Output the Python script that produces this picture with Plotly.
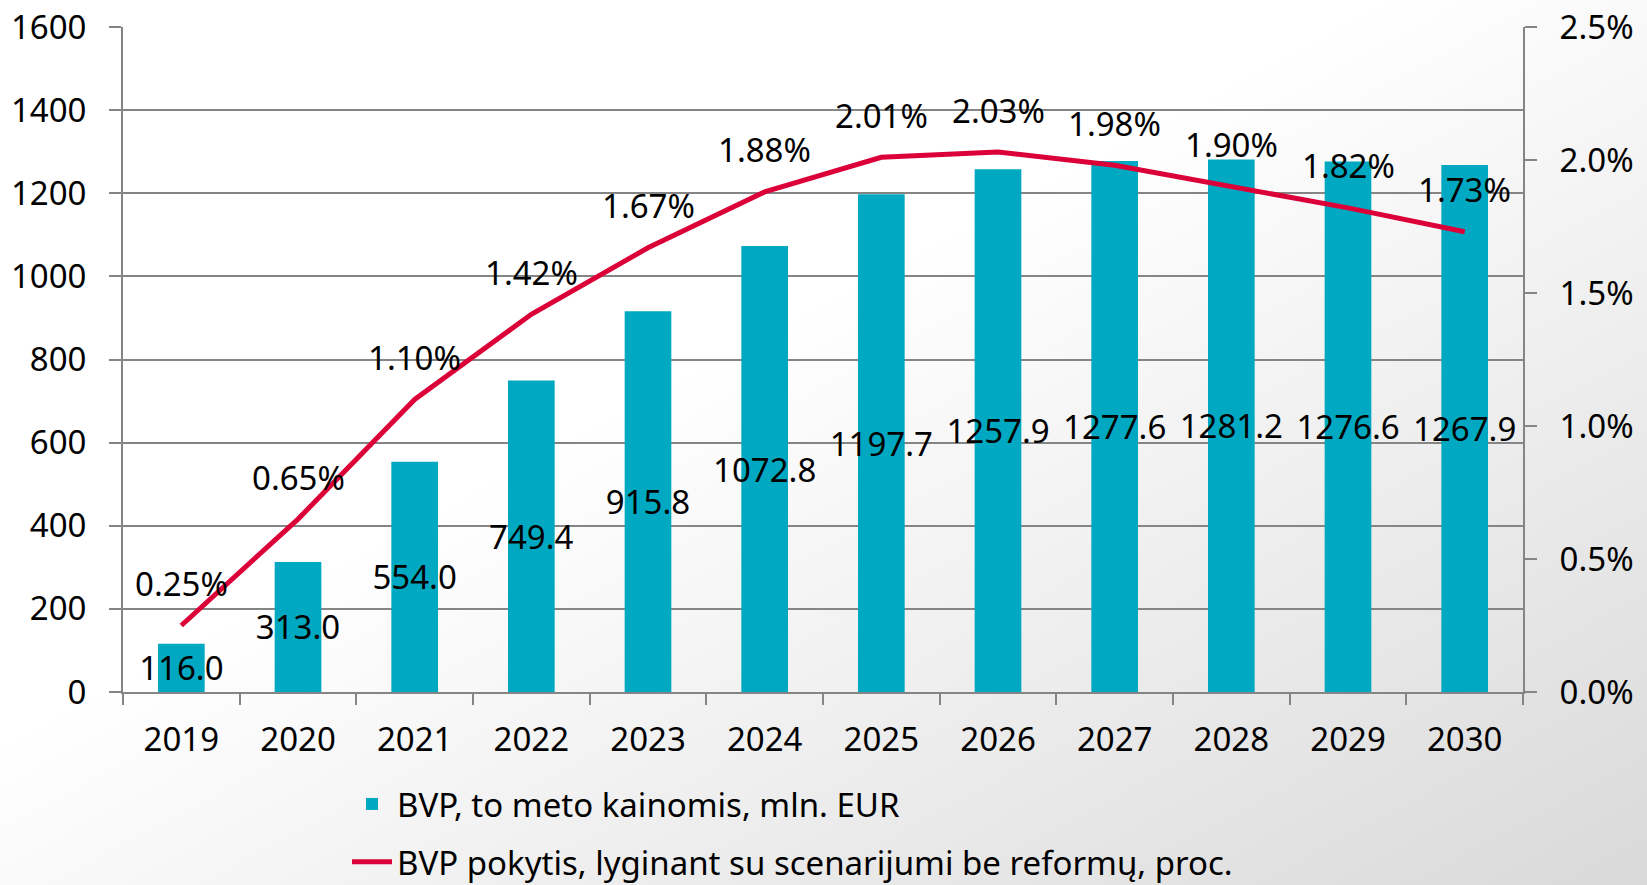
import base64
import plotly.graph_objects as go

years = ["2019", "2020", "2021", "2022", "2023", "2024", "2025", "2026", "2027", "2028", "2029", "2030"]
bvp = [116.0, 313.0, 554.0, 749.4, 915.8, 1072.8, 1197.7, 1257.9, 1277.6, 1281.2, 1276.6, 1267.9]
change_pct = [0.25, 0.65, 1.10, 1.42, 1.67, 1.88, 2.01, 2.03, 1.98, 1.90, 1.82, 1.73]
left_ticks = [0, 200, 400, 600, 800, 1000, 1200, 1400, 1600]
right_ticks = [0.0, 0.5, 1.0, 1.5, 2.0, 2.5]

bar_name = "BVP, to meto kainomis, mln. EUR"
line_name = "BVP pokytis, lyginant su scenarijumi be reformų, proc."

FONT = "Noto Sans"
FS = 33
BAR_COLOR = "#00A9C1"
LINE_COLOR = "#DC0039"
AXIS_COLOR = "#858585"

W, H = 1647, 885
ML, MR, MT, MB = 123, 124, 27, 193

svg = f'''<svg xmlns="http://www.w3.org/2000/svg" width="{W}" height="{H}" viewBox="0 0 {W} {H}" preserveAspectRatio="none">
<defs><linearGradient id="g" x1="0" y1="0" x2="1" y2="1">
<stop offset="0" stop-color="#FFFFFF"/><stop offset="0.42" stop-color="#FFFFFF"/>
<stop offset="1" stop-color="#D9D9D9"/></linearGradient></defs>
<rect x="0" y="0" width="{W}" height="{H}" fill="url(#g)"/></svg>'''
bg_src = "data:image/svg+xml;base64," + base64.b64encode(svg.encode()).decode()

pw = W - ML - MR
ph = H - MT - MB
xi = list(range(len(years)))

fig = go.Figure()
fig.add_trace(go.Bar(
    x=xi, y=bvp, name=bar_name, marker=dict(color=BAR_COLOR, line=dict(width=0)),
    width=0.4, texttemplate="%{y:.1f}", textposition="inside", insidetextanchor="middle",
    textangle=0, constraintext="none", cliponaxis=False,
    textfont=dict(family=FONT, size=FS, color="black"),
    legendgroup="a",
))
fig.add_trace(go.Scatter(
    x=xi, y=change_pct, name=line_name, yaxis="y2", mode="lines",
    line=dict(color=LINE_COLOR, width=5), legendgroup="b",
))

for i, v in zip(xi, change_pct):
    fig.add_annotation(x=i, y=v, xref="x", yref="y2", text=f"{v:.2f}%",
                       showarrow=False, yshift=42, yanchor="middle",
                       font=dict(family=FONT, size=FS, color="black"))

fig.update_layout(
    width=W, height=H,
    margin=dict(l=ML, r=MR, t=MT, b=MB, pad=0, autoexpand=False),
    paper_bgcolor="white", plot_bgcolor="rgba(0,0,0,0)",
    font=dict(family=FONT, size=FS, color="black"),
    showlegend=True,
    legend=dict(orientation="v", x=(347 - ML) / pw, xanchor="left", y=-(776 - H + MB) / ph, yanchor="top",
                bgcolor="rgba(0,0,0,0)", font=dict(family=FONT, size=FS, color="black"),
                tracegroupgap=12, itemwidth=40),
    images=[dict(source=bg_src, xref="paper", yref="paper", x=-ML / pw, y=1 + MT / ph,
                 sizex=W / pw, sizey=H / ph, sizing="stretch", layer="below", xanchor="left", yanchor="top")],
    xaxis=dict(range=[-0.5, len(years) - 0.5], tickmode="array", tickvals=xi, ticktext=years,
               showline=True, linecolor=AXIS_COLOR, linewidth=2, tickangle=0,
               ticks="", showgrid=False, zeroline=False,
               tickfont=dict(family=FONT, size=FS, color="black"),
               ticklabelstandoff=17, automargin=False),
    xaxis2=dict(range=[-0.5, len(years) - 0.5], overlaying="x", tickmode="array",
                tickvals=[i - 0.5 for i in range(len(years) + 1)], showticklabels=False,
                ticks="outside", ticklen=12, tickcolor=AXIS_COLOR, tickwidth=2,
                showgrid=False, zeroline=False, showline=False, side="bottom", anchor="y"),
    yaxis=dict(range=[0, 1600], tickvals=left_ticks, showline=True, linecolor=AXIS_COLOR, linewidth=2,
               ticks="outside", ticklen=12, tickcolor=AXIS_COLOR, tickwidth=2,
               showgrid=True, gridcolor=AXIS_COLOR, gridwidth=2, zeroline=False,
               tickfont=dict(family=FONT, size=FS, color="black"), ticklabelstandoff=16, automargin=False),
    yaxis2=dict(range=[0, 2.5], tickmode="array", tickvals=right_ticks,
                ticktext=[f"{v:.1f}%" for v in right_ticks],
                overlaying="y", side="right", showline=True, linecolor=AXIS_COLOR, linewidth=2,
                ticks="outside", ticklen=12, tickcolor=AXIS_COLOR, tickwidth=2,
                showgrid=False, zeroline=False, automargin=False,
                tickfont=dict(family=FONT, size=FS, color="black"), ticklabelstandoff=16),
)
# invisible trace to activate the boundary-tick axis
fig.add_trace(go.Scatter(x=[-0.5], y=[0], xaxis="x2", mode="markers", marker=dict(opacity=0),
                         showlegend=False, hoverinfo="skip"))

fig.write_html("out.html", config={"displayModeBar": False},
               post_script="document.body.style.margin='0px';document.body.style.padding='0px';")
